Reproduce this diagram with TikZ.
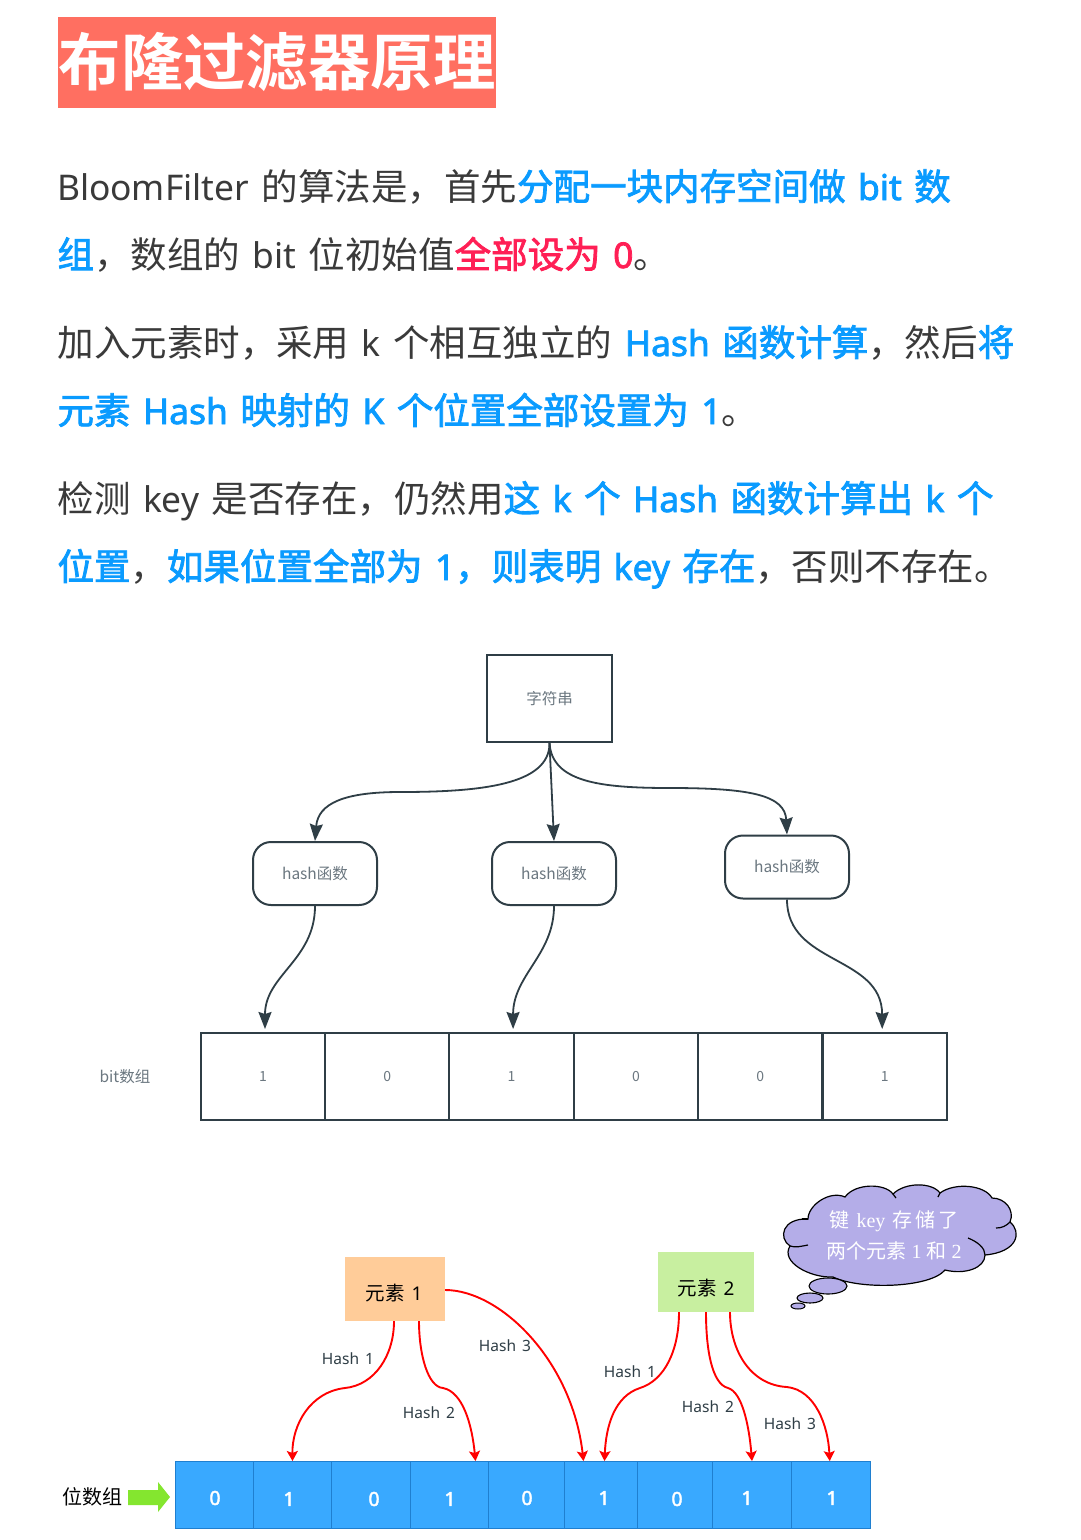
\documentclass[tikz,border=0pt]{standalone}
\usepackage{fontspec}
\setmainfont{Noto Sans CJK SC}[BoldFont={Noto Sans CJK SC Bold}]
\newfontfamily\latf[Scale=0.97]{Noto Sans}
\newfontfamily\latb[Scale=0.97,FakeBold=2.2]{Noto Sans}
\newfontfamily\cjkm[FakeBold=2.2]{Noto Sans CJK SC}
\newfontfamily\serf{Liberation Serif}
\usetikzlibrary{arrows.meta,calc}
\definecolor{coral}{HTML}{FF6F61}
\definecolor{bodytxt}{HTML}{3A3A3A}
\definecolor{hl}{HTML}{0A9BFF}
\definecolor{rd}{HTML}{FF1F55}
\definecolor{ln}{HTML}{2F3E46}
\definecolor{gtx}{HTML}{6B7780}
\definecolor{cellb}{HTML}{39A9FF}
\definecolor{celll}{HTML}{1F7FD0}
\definecolor{cloudf}{HTML}{B4ADE8}
\definecolor{eone}{HTML}{FFCC99}
\definecolor{etwo}{HTML}{C8EFA0}
\definecolor{garrow}{HTML}{84E62F}
\newcommand{\gp}{\hspace{12.5pt}}
\newcommand{\LL}[1]{{\latf #1}}
\newcommand{\BB}[1]{\textcolor{hl}{\cjkm #1}}
\newcommand{\LB}[1]{{\latb #1}}
\newcommand{\RR}[1]{\textcolor{rd}{\cjkm #1}}
\tikzset{
 para/.style={anchor=base west,inner sep=0pt,outer sep=0pt,font=\fontsize{36.5}{36.5}\selectfont,text=bodytxt},
 rbox/.style={draw=ln,line width=2pt,fill=white,minimum width=124pt,minimum height=63pt,rounded corners=18pt,text=gtx,font=\fontsize{15.5}{15.5}\selectfont,inner sep=0pt},
 cellw/.style={draw=ln,line width=2pt,minimum width=124.33pt,minimum height=87pt,text=gtx,font=\fontsize{14}{14}\selectfont,inner sep=0pt},
 flow/.style={draw=ln,line width=1.8pt,-{Stealth[length=17pt,width=13pt,inset=2pt]}},
 rarrow/.style={draw=red,line width=1.9pt,-{Stealth[length=10pt,width=11pt,inset=2pt]}},
 hlabel/.style={text=ln,font=\fontsize{16}{16}\selectfont,inner sep=0pt},
 bluecell/.style={anchor=north west,draw=celll,line width=1pt,fill=cellb,minimum height=67pt,inner sep=0pt},
 bdigit/.style={text=white,inner sep=0pt,font=\fontsize{20}{20}\selectfont\latb},
 cloudtxt/.style={text=white,font=\fontsize{20}{20}\selectfont,inner sep=0pt},
 eltxt/.style={inner sep=0pt,font=\fontsize{19.5}{19.5}\selectfont,text=black},
}
\begin{document}
\begin{tikzpicture}[x=1pt,y=-1pt]
\useasboundingbox (0,0) rectangle (1080,1540);
\fill[white] (0,0) rectangle (1080,1540);
% title
\node[fill=coral,minimum width=438pt,minimum height=91pt,inner sep=0pt,text=white,font=\fontsize{62.4}{62.4}\selectfont\bfseries] (title) at (277,62.5) {布隆过滤器原理};
% paragraphs
\node[para] (l1) at (57,200) {\LL{BloomFilter}\gp 的算法是，首先\BB{分配一块内存空间做\gp\LB{bit}\gp 数}};
\node[para] (l2) at (57.5,268) {\BB{组}，数组的\gp\LL{bit}\gp 位初始值\RR{全部设为\gp\LB{0}}。};
\node[para] (l3) at (57.5,356) {加入元素时，采用\gp\LL{k}\gp 个相互独立的\gp\BB{\LB{Hash}\gp 函数计算}，然后\BB{将}};
\node[para] (l4) at (57.5,424) {\BB{元素\gp\LB{Hash}\gp 映射的\gp\LB{K}\gp 个位置全部设置为\gp\LB{1}}。};
\node[para] (l5) at (57.5,512) {检测\gp\LL{key}\gp 是否存在，仍然用\BB{这\gp\LB{k}\gp 个\gp\LB{Hash}\gp 函数计算出\gp\LB{k}\gp 个}};
\node[para] (l6) at (57.5,580) {\BB{位置}，\BB{如果位置全部为\gp\LB{1}，则表明\gp\LB{key}\gp 存在}，否则不存在。};
% upper diagram
\node[draw=ln,line width=2pt,fill=white,minimum width=125pt,minimum height=87pt,text=gtx,font=\fontsize{15.5}{15.5}\selectfont,inner sep=0pt] (s) at (549.5,698.5) {字符串};
\node[rbox] (h1) at (315,873.5) {hash函数};
\node[rbox] (h2) at (554,873.5) {hash函数};
\node[rbox] (h3) at (787,867) {hash函数};
\node[cellw] (c1) at (263,1076.5) {1};
\node[cellw] (c2) at (387.3,1076.5) {0};
\node[cellw] (c3) at (511.6,1076.5) {1};
\node[cellw] (c4) at (636,1076.5) {0};
\node[cellw] (c5) at (760.3,1076.5) {0};
\node[cellw] (c6) at (884.7,1076.5) {1};
\node[text=gtx,font=\fontsize{15.5}{15.5}\selectfont,inner sep=0pt] (bitl) at (125,1077) {bit数组};
\draw[flow] (s.south) .. controls (550,785) and (480,792) .. (400,792) .. controls (345,792) and (318,803) .. (h1.north);
\draw[flow] (s.south) -- (h2.north);
\draw[flow] (s.south) .. controls (552,782) and (600,788) .. (670,788) .. controls (750,788) and (785,795) .. (h3.north);
\draw[flow] (h1.south) .. controls (315,960) and (265,975) .. ([xshift=2pt,yshift=3pt]c1.north);
\draw[flow] (h2.south) .. controls (554,955) and (513,975) .. ([xshift=1.5pt,yshift=3pt]c3.north);
\draw[flow] (h3.south) .. controls (787,965) and (882,955) .. ([xshift=-2.5pt,yshift=3pt]c6.north);
% lower diagram
\node[fill=eone,minimum width=100pt,minimum height=64pt,inner sep=0pt] (e1) at (395,1289) {};
\node[eltxt] (e1t) at (394,1293) {元素\hspace{7pt}\LL{1}};
\node[fill=etwo,minimum width=96pt,minimum height=60pt,inner sep=0pt] (e2) at (706,1282) {};
\node[eltxt] (e2t) at (706,1288) {元素\hspace{7pt}\LL{2}};
\node[bluecell,minimum width=78pt] (b1) at (175,1461) {};
\node[bluecell,minimum width=78pt] (b2) at (253,1461) {};
\node[bluecell,minimum width=79pt] (b3) at (331,1461) {};
\node[bluecell,minimum width=78pt] (b4) at (410,1461) {};
\node[bluecell,minimum width=76pt] (b5) at (488,1461) {};
\node[bluecell,minimum width=73pt] (b6) at (564,1461) {};
\node[bluecell,minimum width=75pt] (b7) at (637,1461) {};
\node[bluecell,minimum width=79pt] (b8) at (712,1461) {};
\node[bluecell,minimum width=78.5pt] (b9) at (791,1461) {};
\node[bdigit] (d1) at (215,1498) {0};
\node[bdigit] (d2) at (289,1499) {1};
\node[bdigit] (d3) at (374,1499) {0};
\node[bdigit] (d4) at (450,1499) {1};
\node[bdigit] (d5) at (527,1498) {0};
\node[bdigit] (d6) at (604,1498) {1};
\node[bdigit] (d7) at (677,1499) {0};
\node[bdigit] (d8) at (747,1498) {1};
\node[bdigit] (d9) at (832,1498) {1};
\draw[rarrow] ([xshift=-1pt]e1.south) .. controls (394,1355) and (375,1385) .. (345,1388) .. controls (310,1392) and (292,1425) .. ([xshift=0pt]b2.north);
\draw[rarrow] ([xshift=24pt]e1.south) .. controls (419,1355) and (428,1387) .. (443,1388) .. controls (463,1392) and (472,1425) .. ([xshift=26pt]b4.north);
\draw[rarrow] ([yshift=-1pt]e1.east) .. controls (500,1290) and (572,1360) .. ([xshift=-17.5pt]b6.north);
\draw[rarrow] ([xshift=-27pt]e2.south) .. controls (679,1350) and (665,1380) .. (640,1388) .. controls (615,1396) and (606,1425) .. ([xshift=3.5pt]b6.north);
\draw[rarrow] (e2.south) .. controls (706,1350) and (712,1384) .. (728,1388) .. controls (742,1392) and (749,1425) .. (b8.north);
\draw[rarrow] ([xshift=24pt]e2.south) .. controls (730,1350) and (750,1385) .. (787,1387) .. controls (815,1390) and (828,1425) .. ([xshift=-1pt]b9.north);
\node[hlabel] (t1) at (348,1359) {\LL{Hash\hspace{6pt}1}};
\node[hlabel] (t2) at (429,1413) {\LL{Hash\hspace{6pt}2}};
\node[hlabel] (t3) at (505,1346) {\LL{Hash\hspace{6pt}3}};
\node[hlabel] (t4) at (630,1372) {\LL{Hash\hspace{6pt}1}};
\node[hlabel] (t5) at (708,1407) {\LL{Hash\hspace{6pt}2}};
\node[hlabel] (t6) at (790,1424) {\LL{Hash\hspace{6pt}3}};
\node[text=black,font=\fontsize{20}{20}\selectfont,inner sep=0pt] (wl) at (92,1497) {位数组};
\fill[garrow] (128,1490) -- (158,1490) -- (158,1482) -- (170,1497) -- (158,1512) -- (158,1505) -- (128,1505) -- cycle;
% cloud
\draw[fill=cloudf,draw=black,line width=1.2pt]
 (808,1219) .. controls (808,1205) and (830,1190) .. (845,1197)
 .. controls (855,1183) and (885,1183) .. (893,1194)
 .. controls (905,1182) and (932,1182) .. (940,1193)
 .. controls (955,1182) and (985,1185) .. (992,1198)
 .. controls (1005,1198) and (1015,1210) .. (1010,1222)
 .. controls (1022,1232) and (1018,1252) .. (985,1255)
 .. controls (985,1268) and (965,1275) .. (945,1270)
 .. controls (930,1288) and (860,1290) .. (833,1277)
 .. controls (810,1278) and (780,1262) .. (790,1246)
 .. controls (778,1238) and (782,1218) .. (808,1219) -- cycle;
\draw[black,line width=1.2pt] (808,1219) -- (802,1219);
\draw[black,line width=1.2pt] (790,1246) .. controls (796,1248) and (802,1246) .. (808,1245);
\draw[black,line width=1.2pt] (985,1255) .. controls (985,1248) and (978,1242) .. (968,1238);
\draw[black,line width=1.2pt] (1010,1222) .. controls (1006,1226) and (1002,1228) .. (996,1228);
\draw[black,line width=1.2pt] (893,1194) -- (896,1198);
\draw[black,line width=1.2pt] (940,1193) -- (938,1197);
\draw[fill=cloudf,draw=black,line width=1.1pt] (828,1286) ellipse [x radius=19,y radius=8];
\draw[fill=cloudf,draw=black,line width=1.1pt] (810,1298) ellipse [x radius=13,y radius=5];
\draw[fill=cloudf,draw=black,line width=1pt] (798,1306) ellipse [x radius=7,y radius=3];
\node[cloudtxt] (k1) at (894,1221) {键\hspace{7pt}{\serf key}\hspace{7pt}存\hspace{3pt}储\hspace{3pt}了};
\node[cloudtxt] (k2) at (894,1251) {两个元素\hspace{5pt}{\serf 1}\hspace{5pt}和\hspace{5pt}{\serf 2}};
\end{tikzpicture}
\end{document}
